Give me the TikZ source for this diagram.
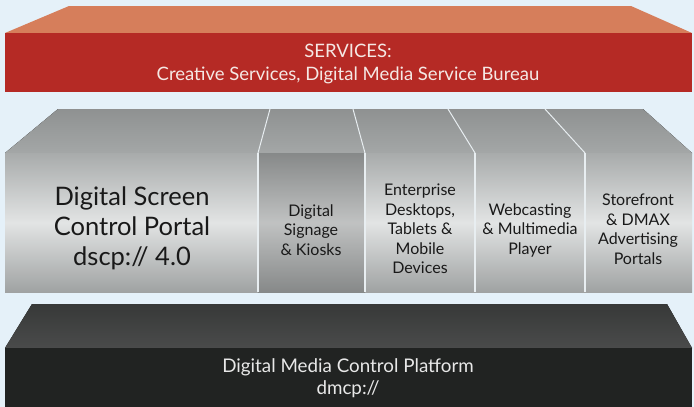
\documentclass[tikz,border=0pt]{standalone}
\usepackage{fontspec}
\setmainfont{Lato}
\usetikzlibrary{positioning}
\definecolor{bgblue}{RGB}{229,241,249}
\definecolor{servtop}{RGB}{214,126,91}
\definecolor{servfront}{RGB}{181,42,37}
\definecolor{servtext}{RGB}{245,232,228}
\definecolor{platdark}{RGB}{33,35,34}
\definecolor{platedge}{RGB}{74,75,75}
\definecolor{plattext}{RGB}{232,232,232}
\definecolor{portaldark}{RGB}{94,99,99}
\definecolor{portallight}{RGB}{226,228,228}
\definecolor{portalmid}{RGB}{168,171,171}
\definecolor{divline}{RGB}{232,238,241}

\begin{document}
\begin{tikzpicture}[x=1pt, y=-1pt,
    label/.style={align=center, text=black!90, font=\fontsize{16}{19.5}\selectfont, inner sep=0pt},
    column/.style={shading=axis, top color=portalmid, bottom color=portalmid!95!black, middle color=portallight},
    darkcolumn/.style={shading=axis, top color=portalmid!80!black, bottom color=portalmid!80!black, middle color=portallight!85!black}]

  % background
  \fill[bgblue] (0,0) rectangle (694,407);

  % services slab
  \fill[servtop] (69,6) -- (631,6) -- (692,33) -- (5,33) -- cycle;
  \fill[servfront] (5,33) rectangle (692,92);
  \node[align=center, text=servtext, font=\fontsize{18.5}{23}\selectfont] (services) at (348,64)
    {SERVICES:\\Creative Services, Digital Media Service Bureau};

  % portal slab, top face
  \fill[shading=axis, top color=portalmid!85!black, middle color=portaldark, bottom color=portalmid!105!white]
    (58,109) -- (643,109) -- (692,153) -- (5,153) -- cycle;
  \foreach \xf/\xt in {258/270, 365/353, 475/448, 585/545}
    \draw[divline, line width=1pt] (\xf,153) -- (\xt,109);

  % portal slab, front columns
  \fill[column] (5,153) rectangle (258,292);
  \fill[darkcolumn] (258,153) rectangle (365,292);
  \fill[column] (365,153) rectangle (475,292);
  \fill[column] (475,153) rectangle (585,292);
  \fill[column] (585,153) rectangle (692,292);
  \foreach \xd in {258, 365, 475, 585}
    \draw[divline, line width=1.5pt] (\xd,153) -- (\xd,292);

  \node[label, font=\fontsize{25.5}{30}\selectfont] (dscp) at (132,228)
    {Digital Screen\\Control Portal\\dscp:// 4.0};
  \node[label] (signage) at (311,230) {Digital\\Signage\\\& Kiosks};
  \node[label] (enterprise) at (420,229) {Enterprise\\Desktops,\\Tablets \&\\Mobile\\Devices};
  \node[label] (webcast) at (530,230) {Webcasting\\\& Multimedia\\Player};
  \node[label] (storefront) at (638,229) {Storefront\\\& DMAX\\Advertising\\Portals};

  % platform slab
  \fill[shading=axis, top color=platdark!90!white, middle color=platdark, bottom color=platedge]
    (32,304) -- (667,304) -- (692,348) -- (5,348) -- cycle;
  \fill[platdark] (5,348) rectangle (692,407);
  \node[align=center, text=plattext, font=\fontsize{18.8}{22}\selectfont] (platform) at (348,378)
    {Digital Media Control Platform\\dmcp://};
\end{tikzpicture}
\end{document}
